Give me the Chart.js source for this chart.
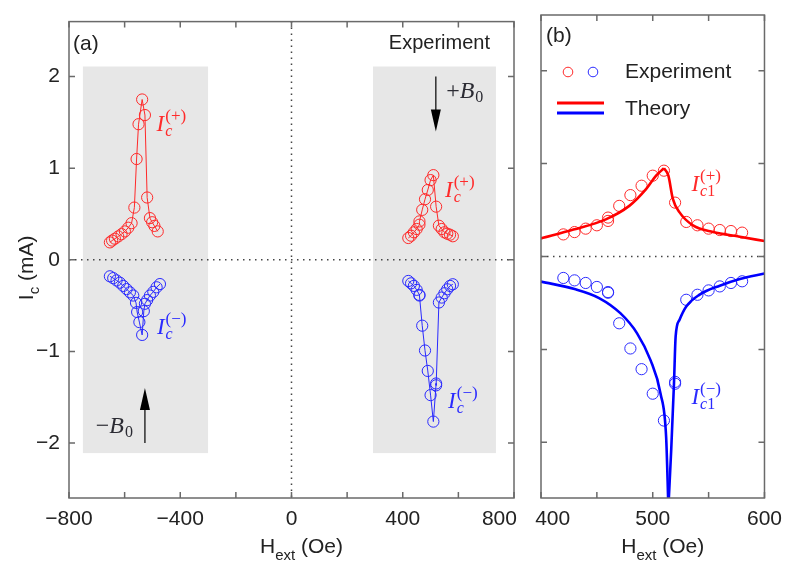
<!DOCTYPE html>
<html>
<head>
<meta charset="utf-8">
<script src="https://cdn.jsdelivr.net/npm/chart.js@4/dist/chart.umd.min.js"></script>
<style>
  body { margin: 0; background: #fff; }
  #wrap { position: relative; width: 791px; height: 563px; }
  canvas { position: absolute; top: 0; }
</style>
</head>
<body>
<div id="wrap">
  <canvas id="chartA" width="570" height="563" style="left:0"></canvas>
  <canvas id="chartB" width="311" height="563" style="left:480px"></canvas>
</div>
<script>
// measured critical currents, negative bias field (-B0)
const redNegH  = [-653, -645, -635, -623, -611, -599, -587, -575, -565, -557, -550, -537, -527, -519, -509, -501, -493, -481];
const redNegI  = [0.19, 0.21, 0.23, 0.255, 0.28, 0.31, 0.35, 0.40, 0.57, 1.10, 1.48, 1.75, 1.58, 0.68, 0.455, 0.41, 0.37, 0.31];
const blueNegH = [-653, -641, -629, -617, -605, -593, -581, -569, -559, -555, -547, -537, -531, -527, -519, -509, -497, -485, -473];
const blueNegI = [-0.18, -0.20, -0.225, -0.25, -0.285, -0.32, -0.355, -0.39, -0.47, -0.57, -0.68, -0.82, -0.56, -0.48, -0.44, -0.39, -0.35, -0.30, -0.265];

// measured critical currents, positive bias field (+B0)
const redPosH  = [420, 430, 440, 450, 460, 460, 470, 480, 490, 500, 510, 520, 530, 540, 550, 560, 570, 580];
const redPosI  = [0.238, 0.263, 0.30, 0.336, 0.383, 0.419, 0.545, 0.661, 0.762, 0.87, 0.924, 0.58, 0.372, 0.336, 0.30, 0.285, 0.274, 0.257];
const bluePosH = [420, 430, 440, 450, 460, 460, 470, 480, 490, 500, 510, 520, 520, 530, 540, 550, 560, 570, 580];
const bluePosI = [-0.231, -0.257, -0.285, -0.328, -0.383, -0.39, -0.719, -0.99, -1.213, -1.477, -1.766, -1.35, -1.37, -0.466, -0.412, -0.365, -0.322, -0.285, -0.267];

// theory curves Ic1(+) and Ic1(-)
const theoryRedH  = [400, 429, 458, 479, 494, 503, 510, 514, 518, 524, 536, 554, 578, 600];
const theoryRedI  = [0.195, 0.29, 0.40, 0.545, 0.725, 0.87, 0.95, 0.87, 0.62, 0.475, 0.335, 0.263, 0.213, 0.166];
const theoryBlueH = [400, 430, 452, 471, 486, 498, 507, 512, 514, 516.5, 519, 520.5, 524, 530, 542, 560, 578, 600];
const theoryBlueI = [-0.27, -0.35, -0.447, -0.61, -0.827, -1.116, -1.477, -1.947, -2.7, -2.09, -1.37, -0.86, -0.68, -0.538, -0.41, -0.314, -0.242, -0.184];

// axis ticks
const ticksAx = [-800, -400, 0, 400, 800];
const marksAx = [-800, -600, -400, -200, 0, 200, 400, 600, 800];
const ticksBx = [400, 500, 600];
const marksBx = [400, 450, 500, 550, 600];
const ticksY  = [-2, -1, 0, 1, 2];

const RED = '#ff2a2a';
const BLUE = '#2a2aff';
const FRAME = '#6a6a6a';
const SANS = '"Liberation Sans", Arial, sans-serif';
const SERIF = '"Liberation Serif", "Times New Roman", serif';

const pts = (xs, ys) => xs.map((x, i) => ({ x: x, y: ys[i] }));
const minus = v => String(v).replace('-', '\u2212');

function expSet(xs, ys, color, withLine) {
  return {
    data: pts(xs, ys),
    showLine: withLine,
    borderColor: color,
    borderWidth: 1,
    pointRadius: 5.6,
    pointBorderWidth: 1,
    pointBackgroundColor: 'rgba(0,0,0,0)',
    pointBorderColor: color,
    tension: 0
  };
}

// split a cusped curve at its extreme point so each side stays smooth
function theorySets(xs, ys, color, useMin) {
  const ext = useMin ? Math.min(...ys) : Math.max(...ys);
  const k = ys.indexOf(ext);
  const all = pts(xs, ys);
  return [all.slice(0, k + 1), all.slice(k)].map(d => ({
    data: d,
    showLine: true,
    borderColor: color,
    borderWidth: 2.6,
    pointRadius: 0,
    cubicInterpolationMode: 'monotone'
  }));
}

// italic symbol with sub- and superscript, baseline at (x, y)
function mathLabel(ctx, x, y, main, sub, sup, color) {
  ctx.fillStyle = color;
  ctx.textAlign = 'left';
  ctx.textBaseline = 'alphabetic';
  ctx.font = 'italic 23px ' + SERIF;
  ctx.fillText(main, x, y);
  const sx = x + ctx.measureText(main).width + 1;
  ctx.font = 'italic 16px ' + SERIF;
  ctx.fillText(sub[0], sx, y + 5);
  if (sub.length > 1) {
    const w = ctx.measureText(sub[0]).width;
    ctx.font = '16px ' + SERIF;
    ctx.fillText(sub.slice(1), sx + w, y + 5);
  }
  ctx.font = '17px ' + SERIF;
  ctx.fillText(sup, sx, y - 10);
}

function bLabel(ctx, x, y, sign, alignRight) {
  ctx.font = '24px ' + SERIF;
  const ws = ctx.measureText(sign).width;
  ctx.font = 'italic 24px ' + SERIF;
  const wb = ctx.measureText('B').width;
  ctx.font = '16px ' + SERIF;
  const w0 = ctx.measureText('0').width;
  let cx = alignRight ? x - (ws + wb + w0 + 1) : x;
  ctx.fillStyle = '#2b2b33';
  ctx.textAlign = 'left';
  ctx.textBaseline = 'alphabetic';
  ctx.font = '24px ' + SERIF;
  ctx.fillText(sign, cx, y);
  cx += ws;
  ctx.font = 'italic 24px ' + SERIF;
  ctx.fillText('B', cx, y);
  cx += wb + 1;
  ctx.font = '16px ' + SERIF;
  ctx.fillText('0', cx, y + 4);
}

function arrow(ctx, px, y0, y1) {
  const dir = y1 > y0 ? 1 : -1;
  ctx.strokeStyle = '#000';
  ctx.fillStyle = '#000';
  ctx.lineWidth = 1.2;
  ctx.beginPath();
  ctx.moveTo(px, y0);
  ctx.lineTo(px, y1 - dir * 20);
  ctx.stroke();
  ctx.beginPath();
  ctx.moveTo(px, y1);
  ctx.lineTo(px - 5, y1 - dir * 22);
  ctx.lineTo(px + 5, y1 - dir * 22);
  ctx.closePath();
  ctx.fill();
}

function dotted(ctx, x0, y0, x1, y1) {
  ctx.save();
  ctx.strokeStyle = '#444';
  ctx.lineWidth = 1.5;
  ctx.setLineDash([1.5, 4.5]);
  ctx.beginPath();
  ctx.moveTo(x0, y0);
  ctx.lineTo(x1, y1);
  ctx.stroke();
  ctx.restore();
}

function frame(chart, xMarks) {
  const { ctx, chartArea: a, scales: { x, y } } = chart;
  ctx.save();
  ctx.strokeStyle = FRAME;
  ctx.lineWidth = 1.5;
  ctx.strokeRect(a.left, a.top, a.width, a.height);
  ctx.beginPath();
  xMarks.forEach(v => {
    const px = x.getPixelForValue(v);
    ctx.moveTo(px, a.bottom); ctx.lineTo(px, a.bottom - 6);
    ctx.moveTo(px, a.top); ctx.lineTo(px, a.top + 6);
  });
  ticksY.forEach(v => {
    const py = y.getPixelForValue(v);
    ctx.moveTo(a.left, py); ctx.lineTo(a.left + 6, py);
    ctx.moveTo(a.right, py); ctx.lineTo(a.right - 6, py);
  });
  ctx.stroke();
  ctx.restore();
}

function xTitle(ctx, cx, y) {
  ctx.save();
  ctx.fillStyle = '#222';
  ctx.textBaseline = 'alphabetic';
  ctx.textAlign = 'left';
  ctx.font = '21px ' + SANS;
  const wH = ctx.measureText('H').width;
  const wR = ctx.measureText(' (Oe)').width;
  ctx.font = '15px ' + SANS;
  const wS = ctx.measureText('ext').width;
  let px = cx - (wH + wS + wR) / 2;
  ctx.font = '21px ' + SANS;
  ctx.fillText('H', px, y);
  px += wH;
  ctx.font = '15px ' + SANS;
  ctx.fillText('ext', px, y + 7);
  px += wS;
  ctx.font = '21px ' + SANS;
  ctx.fillText(' (Oe)', px, y);
  ctx.restore();
}

function scaleOpts(min, max, ticks, fit, fmt) {
  return {
    type: 'linear',
    min: min,
    max: max,
    grid: { display: false, drawTicks: false },
    border: { display: false },
    afterBuildTicks: s => { s.ticks = ticks.map(v => ({ value: v })); },
    afterFit: fit,
    ticks: {
      font: { family: SANS, size: 21 },
      color: '#222',
      padding: 9,
      autoSkip: false,
      maxRotation: 0,
      callback: fmt || (v => minus(v))
    }
  };
}

const panelA = {
  id: 'panelA',
  beforeDatasetsDraw(chart) {
    const { ctx, chartArea: a, scales: { x, y } } = chart;
    ctx.save();
    ctx.fillStyle = '#e7e7e7';
    [[-750, -300], [293, 735]].forEach(([h0, h1]) => {
      const l = x.getPixelForValue(h0), r = x.getPixelForValue(h1);
      const t = y.getPixelForValue(2.11), b = y.getPixelForValue(-2.11);
      ctx.fillRect(l, t, r - l, b - t);
    });
    ctx.restore();
    const y0 = y.getPixelForValue(0), x0 = x.getPixelForValue(0);
    dotted(ctx, a.left, y0, a.right, y0);
    dotted(ctx, x0, a.top, x0, a.bottom);
  },
  afterDraw(chart) {
    const { ctx, chartArea: a, scales: { x, y } } = chart;
    frame(chart, marksAx);
    ctx.save();
    mathLabel(ctx, x.getPixelForValue(-485), y.getPixelForValue(1.41), 'I', 'c', '(+)', RED);
    mathLabel(ctx, x.getPixelForValue(-484), y.getPixelForValue(-0.81), 'I', 'c', '(\u2212)', BLUE);
    mathLabel(ctx, x.getPixelForValue(552), y.getPixelForValue(0.69), 'I', 'c', '(+)', RED);
    mathLabel(ctx, x.getPixelForValue(563), y.getPixelForValue(-1.62), 'I', 'c', '(\u2212)', BLUE);
    arrow(ctx, x.getPixelForValue(-527), y.getPixelForValue(-2.0), y.getPixelForValue(-1.4));
    arrow(ctx, x.getPixelForValue(519), y.getPixelForValue(2.0), y.getPixelForValue(1.4));
    bLabel(ctx, x.getPixelForValue(-570), y.getPixelForValue(-1.89), '\u2212', true);
    bLabel(ctx, x.getPixelForValue(556), y.getPixelForValue(1.77), '+', false);

    ctx.fillStyle = '#222';
    ctx.textBaseline = 'middle';
    ctx.font = '21px ' + SANS;
    ctx.textAlign = 'left';
    ctx.fillText('(a)', a.left + 4, a.top + 23);
    ctx.font = '20px ' + SANS;
    ctx.textAlign = 'right';
    ctx.fillText('Experiment', a.right - 24, a.top + 22);

    // y axis title, rotated
    ctx.save();
    ctx.translate(33, (a.top + a.bottom) / 2 + 8);
    ctx.rotate(-Math.PI / 2);
    ctx.textBaseline = 'alphabetic';
    ctx.font = '21px ' + SANS;
    const wI = ctx.measureText('I').width, wR = ctx.measureText(' (mA)').width;
    ctx.font = '15px ' + SANS;
    const wc = ctx.measureText('c').width;
    let px = -(wI + wc + wR) / 2;
    ctx.textAlign = 'left';
    ctx.font = '21px ' + SANS;
    ctx.fillText('I', px, 0);
    ctx.font = '15px ' + SANS;
    ctx.fillText('c', px + wI, 6);
    ctx.font = '21px ' + SANS;
    ctx.fillText(' (mA)', px + wI + wc, 0);
    ctx.restore();

    xTitle(ctx, (a.left + a.right) / 2 + 10, 553);
    ctx.restore();
  }
};

const panelB = {
  id: 'panelB',
  beforeDatasetsDraw(chart) {
    const { ctx, chartArea: a, scales: { y } } = chart;
    const y0 = y.getPixelForValue(0);
    dotted(ctx, a.left, y0, a.right, y0);
  },
  afterDraw(chart) {
    const { ctx, chartArea: a, scales: { x, y } } = chart;
    frame(chart, marksBx);
    ctx.save();
    mathLabel(ctx, x.getPixelForValue(534.6), y.getPixelForValue(0.71), 'I', 'c1', '(+)', RED);
    mathLabel(ctx, x.getPixelForValue(534.6), y.getPixelForValue(-1.585), 'I', 'c1', '(\u2212)', BLUE);

    ctx.fillStyle = '#222';
    ctx.textBaseline = 'middle';
    ctx.textAlign = 'left';
    ctx.font = '21px ' + SANS;
    ctx.fillText('(b)', a.left + 5, a.top + 21);

    // legend
    ctx.lineWidth = 1;
    [[27, RED], [52, BLUE]].forEach(([dx, c]) => {
      ctx.strokeStyle = c;
      ctx.beginPath();
      ctx.arc(a.left + dx, a.top + 57, 4.8, 0, Math.PI * 2);
      ctx.stroke();
    });
    ctx.lineWidth = 3;
    [[88, '#ff0000'], [98, '#0000ff']].forEach(([dy, c]) => {
      ctx.strokeStyle = c;
      ctx.beginPath();
      ctx.moveTo(a.left + 16, a.top + dy);
      ctx.lineTo(a.left + 63, a.top + dy);
      ctx.stroke();
    });
    ctx.fillStyle = '#222';
    ctx.font = '21px ' + SANS;
    ctx.fillText('Experiment', a.left + 84, a.top + 57);
    ctx.fillText('Theory', a.left + 84, a.top + 94);

    xTitle(ctx, (a.left + a.right) / 2 + 10, 553);
    ctx.restore();
  }
};

// the two panels share an edge, so the labels that meet there are nudged apart
const fmtA = v => v === 800 ? '800     ' : minus(v);
const fmtB = v => v === 400 ? '    400' : String(v);

new Chart(document.getElementById('chartA'), {
  type: 'scatter',
  data: {
    datasets: [
      expSet(redNegH, redNegI, RED, true),
      expSet(blueNegH, blueNegI, BLUE, true),
      expSet(redPosH, redPosI, RED, true),
      expSet(bluePosH, bluePosI, BLUE, true)
    ]
  },
  options: {
    responsive: false,
    animation: false,
    layout: { padding: { left: 0, top: 15, right: 56, bottom: 0 } },
    plugins: { legend: { display: false }, tooltip: { enabled: false } },
    scales: {
      x: scaleOpts(-800, 800, ticksAx, s => { s.height = 65; }, fmtA),
      y: scaleOpts(-2.6, 2.6, ticksY, s => { s.width = 69; })
    }
  },
  plugins: [panelA]
});

const yB = scaleOpts(-2.6, 2.6, ticksY, null);
yB.display = false;

new Chart(document.getElementById('chartB'), {
  type: 'scatter',
  data: {
    datasets: [
      ...theorySets(theoryRedH, theoryRedI, '#ff0000', false),
      ...theorySets(theoryBlueH, theoryBlueI, '#0000ff', true),
      expSet(redPosH, redPosI, RED, false),
      expSet(bluePosH, bluePosI, BLUE, false)
    ]
  },
  options: {
    responsive: false,
    animation: false,
    layout: { padding: { left: 61, top: 15, right: 26, bottom: 0 } },
    plugins: { legend: { display: false }, tooltip: { enabled: false } },
    scales: {
      x: scaleOpts(400, 600, ticksBx, s => { s.height = 65; }, fmtB),
      y: yB
    }
  },
  plugins: [panelB]
});
</script>
</body>
</html>
